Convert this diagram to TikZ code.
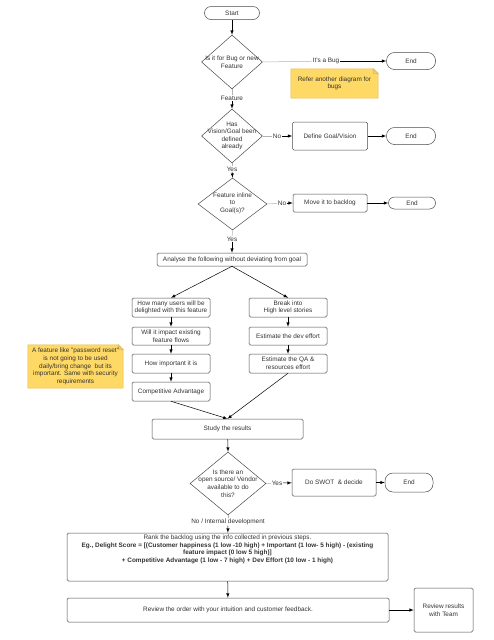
\documentclass[tikz,border=0pt]{standalone}
\usepackage{fontspec}
\setmainfont{Liberation Sans}
\usetikzlibrary{%
  arrows,%
  calc,%
  backgrounds,%
  shapes.geometric%
}
\tikzset{>=latex}
\definecolor{linegray}{HTML}{4A4A4A}
\definecolor{textgray}{HTML}{333333}
\definecolor{notefill}{HTML}{FFD966}
\definecolor{noteedge}{HTML}{E2B84A}
\tikzset{
  base/.style={font=\fontsize{6.4}{7.6}\selectfont, text=textgray, align=center, inner sep=0.5pt},
  box/.style={base, draw=linegray, line width=0.5pt, rounded corners=1.5pt},
  term/.style={base, draw=linegray, line width=0.5pt, rounded corners=#1},
  term/.default=8pt,
  decision/.style={diamond, draw=linegray, line width=0.5pt, inner sep=0pt},
  lbl/.style={base, fill=white, inner sep=0.5pt},
  flow/.style={->, line width=0.5pt},
  pale/.style={line width=0.5pt, draw=gray!60},
  note/.style={base},
}

\begin{document}
\begin{tikzpicture}[x=1pt,y=-1pt]
    \useasboundingbox (0,0) rectangle (494,640);

    \node[term=6.5pt, minimum width=55, minimum height=13] (start) at (232,13) {Start};

    \node[decision, minimum width=61, minimum height=54] (d1) at (232,62) {};
    \node[base] (d1txt) at (d1) {Is it for Bug or new\\Feature};
    \node[lbl] (lbug) at (326,61) {It's a Bug};
    \node[term, minimum width=49, minimum height=17] (end1) at (411,61) {End};
    \node[note, minimum width=87, minimum height=29] (note1) at (334.5,83.5) {Refer another diagram for\\bugs};

    \node[lbl] (lfeat) at (232,98) {Feature};
    \node[decision, minimum width=61, minimum height=54] (d2) at (232,136) {};
    \node[base] (d2txt) at (d2) {Has\\Vision/Goal been\\defined\\already};
    \node[lbl] (lno1) at (277,136) {No};
    \node[box, minimum width=75, minimum height=28] (define) at (330,136) {Define Goal/Vision};
    \node[term, minimum width=49, minimum height=17] (end2) at (411,136) {End};

    \node[lbl] (lyes1) at (232,169) {Yes};
    \node[decision, minimum width=69, minimum height=52] (d3) at (232.5,204) {};
    \node[base] (d3txt) at (232.5,203) {Feature inline\\to\\Goal(s)?};
    \node[lbl] (lno2) at (282,203) {No};
    \node[box, minimum width=74, minimum height=18] (move) at (330,203) {Move it to backlog};
    \node[term=6pt, minimum width=47, minimum height=12] (end3) at (412,203) {End};

    \node[lbl] (lyes2) at (232,239) {Yes};
    \node[box, minimum width=150, minimum height=13] (analyse) at (232,259.5) {Analyse the following without deviating from goal};

    \node[box, minimum width=78, minimum height=19] (l1) at (171,307.5) {How many users will be\\delighted with this feature};
    \node[box, minimum width=78, minimum height=18] (l2) at (171,336) {Will it impact existing\\feature flows};
    \node[box, minimum width=78, minimum height=19] (l3) at (171,363.5) {How important it is};
    \node[box, minimum width=78, minimum height=19] (l4) at (171,391.5) {Competitive Advantage};
    \node[box, minimum width=78, minimum height=19] (r1) at (288,307.5) {Break into\\High level stories};
    \node[box, minimum width=78, minimum height=18] (r2) at (288,336) {Estimate the dev effort};
    \node[box, minimum width=78, minimum height=19] (r3) at (288,363.5) {Estimate the QA \&\\resources effort};
    \node[note, minimum width=95, minimum height=43] (note2) at (75.5,366.5) {A feature like "password reset"\\is not going to be used\\daily/bring change\ \ but its\\important. Same with security\\requirements};

    \node[box, minimum width=151, minimum height=20] (study) at (227.5,429) {Study the results};

    \node[decision, minimum width=76, minimum height=63] (d4) at (228,483.5) {};
    \node[base] (d4txt) at (d4) {Is there an\\open source/ Vendor\\available to do\\this?};
    \node[lbl] (lyes3) at (277,483) {Yes};
    \node[box, minimum width=84, minimum height=27] (swot) at (334,482.5) {Do SWOT\ \ \& decide};
    \node[term, minimum width=48, minimum height=19] (end4) at (409,482.5) {End};

    \node[lbl] (lnoint) at (228,522) {No / Internal development};
    \node[box, minimum width=321, minimum height=48] (rank) at (227.5,557) {};
    \node[base] (ranktxt) at (227.5,549.5) {Rank the backlog using the info collected in previous steps.\\
      \textbf{Eg., Delight Score = [(Customer happiness (1 low -10 high) + Important (1 low- 5 high) - (existing}\\
      \textbf{feature impact (0 low 5 high)]}\\
      \textbf{+ Competitive Advantage (1 low - 7 high) + Dev Effort (10 low - 1 high)}};
    \node[box, minimum width=322, minimum height=24] (review) at (228,610) {Review the order with your intuition and customer feedback.};
    \node[box, minimum width=59, minimum height=44] (team) at (443.5,610) {Review results\\with Team};

    \begin{pgfonlayer}{background}
      \filldraw[fill=notefill, draw=noteedge, line width=0.5pt]
        (note1.south west) -- (note1.north west) -- ([xshift=-5pt]note1.north east)
        -- ([yshift=-5pt]note1.north east) -- (note1.south east) -- cycle;
      \filldraw[fill=noteedge!70, draw=noteedge, line width=0.5pt]
        ([xshift=-5pt]note1.north east) -- ([xshift=-5pt,yshift=-5pt]note1.north east)
        -- ([yshift=-5pt]note1.north east) -- cycle;
      \filldraw[fill=notefill, draw=noteedge, line width=0.5pt]
        (note2.south west) -- (note2.north west) -- ([xshift=-5pt]note2.north east)
        -- ([yshift=-5pt]note2.north east) -- (note2.south east) -- cycle;
      \filldraw[fill=noteedge!70, draw=noteedge, line width=0.5pt]
        ([xshift=-5pt]note2.north east) -- ([xshift=-5pt,yshift=-5pt]note2.north east)
        -- ([yshift=-5pt]note2.north east) -- cycle;
    \end{pgfonlayer}

    \draw[flow] (start) -- (d1);
    \draw[pale] (d1.east) -- (lbug);
    \draw[flow] (lbug) -- (end1);
    \draw[pale] (d1.south) -- (lfeat);
    \draw[flow] (lfeat) -- (d2.north);
    \draw[pale] (d2.east) -- (lno1);
    \draw[flow] (lno1) -- (define);
    \draw[flow] (define) -- (end2);
    \draw[pale] (d2.south) -- (lyes1);
    \draw[flow] (lyes1) -- (d3.north);
    \draw[pale] (d3.east) -- (lno2);
    \draw[flow] (lno2) -- (move);
    \draw[flow] (move) -- (end3);
    \draw[pale] (d3.south) -- (lyes2);
    \draw[flow] (lyes2) -- (analyse);
    \draw[flow] (analyse.south) -- (l1.north);
    \draw[flow] (analyse.south) -- (r1.north);
    \draw[flow] (l1) -- (l2);
    \draw[flow] (l2) -- (l3);
    \draw[flow] (l3) -- (l4);
    \draw[flow] (r1) -- (r2);
    \draw[flow] (r2) -- (r3);
    \draw[flow] (l4.south) -- (study.north);
    \draw[flow] (r3.south) -- (study.north);
    \draw[flow] (study) -- (d4.north);
    \draw[pale] (d4.east) -- (lyes3);
    \draw[flow] (lyes3) -- (swot);
    \draw[flow] (swot) -- (end4);
    \draw[pale] (d4.south) -- (lnoint);
    \draw[flow] (lnoint) -- (rank);
    \draw[flow] (rank) -- (review);
    \draw[flow] (review) -- (team);
  \end{tikzpicture}
\end{document}
